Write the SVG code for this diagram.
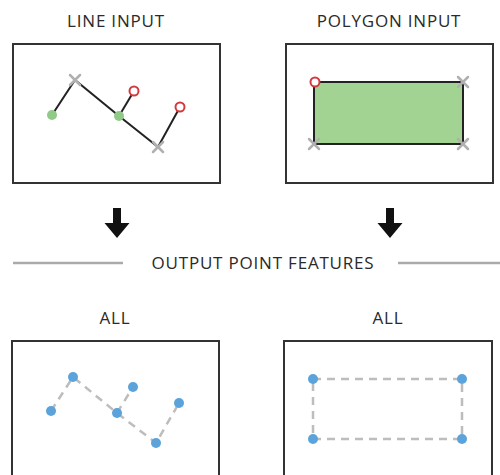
<svg xmlns="http://www.w3.org/2000/svg" width="500" height="475" viewBox="0 0 500 475">
<style>
.t{font-family:"Open Sans","Liberation Sans",sans-serif;font-size:17px;fill:#2a2a2a;text-anchor:middle;letter-spacing:0.8px}
.box{fill:#fff;stroke:#333;stroke-width:2}
.ln{stroke:#222;stroke-width:2;fill:none}
.x{stroke:#b0b0b0;stroke-width:2.5;stroke-linecap:round}
.st{fill:#8fca86}
.en{fill:#fff;stroke:#d23a3f;stroke-width:2}
.dash{stroke:#bdbdbd;stroke-width:2.5;stroke-dasharray:8 6;fill:none}
.pt{fill:#5ba3da}
.sep{stroke:#aaa;stroke-width:2.5}
.arr{fill:#111}
</style>
<defs>
<g id="xm"><line class="x" x1="-5" y1="-5" x2="5" y2="5"/><line class="x" x1="-5" y1="5" x2="5" y2="-5"/></g>
<path id="down" d="M-4,-30 H4 V-15 H12.5 L0,0 L-12.5,-15 H-4 Z"/>
</defs>

<g id="line-input">
<text class="t" x="116" y="27">LINE INPUT</text>
<rect class="box" x="13" y="44" width="207" height="139"/>
<polyline class="ln" points="52,115 75,80 119,116 158,147 180,107"/>
<line class="ln" x1="119" y1="116" x2="134" y2="91"/>
<use href="#xm" x="75" y="80"/>
<use href="#xm" x="158" y="147"/>
<circle class="st" cx="52" cy="115" r="5"/>
<circle class="st" cx="119" cy="116" r="5"/>
<circle class="en" cx="134" cy="91" r="4.5"/>
<circle class="en" cx="180" cy="107" r="4.5"/>
</g>

<g id="polygon-input">
<text class="t" x="389" y="27">POLYGON INPUT</text>
<rect class="box" x="286" y="44" width="207" height="139"/>
<rect x="314" y="82" width="149" height="62" rx="3" fill="#a3d393" stroke="#222" stroke-width="2"/>
<use href="#xm" x="463" y="82"/>
<use href="#xm" x="314" y="144"/>
<use href="#xm" x="463" y="144"/>
<circle class="en" cx="315" cy="82" r="4.5"/>
</g>

<g id="connectors">
<use href="#down" class="arr" x="117" y="238"/>
<use href="#down" class="arr" x="390" y="238"/>
<line class="sep" x1="13" y1="263" x2="123" y2="263"/>
<line class="sep" x1="398" y1="263" x2="500" y2="263"/>
</g>

<g id="output-label">
<text class="t" x="263" y="269">OUTPUT POINT FEATURES</text>
</g>

<g id="all-line">
<text class="t" x="115" y="324">ALL</text>
<rect class="box" x="12" y="341" width="207" height="150"/>
<polyline class="dash" points="51,411 73,377 117,413 156,443 179,403"/>
<line class="dash" x1="117" y1="413" x2="133" y2="387"/>
<circle class="pt" cx="51" cy="411" r="5"/>
<circle class="pt" cx="73" cy="377" r="5"/>
<circle class="pt" cx="117" cy="413" r="5"/>
<circle class="pt" cx="133" cy="387" r="5"/>
<circle class="pt" cx="156" cy="443" r="5"/>
<circle class="pt" cx="179" cy="403" r="5"/>
</g>

<g id="all-polygon">
<text class="t" x="388" y="324">ALL</text>
<rect class="box" x="284" y="341" width="208" height="150"/>
<rect class="dash" x="313" y="379" width="149" height="60"/>
<circle class="pt" cx="313" cy="379" r="5"/>
<circle class="pt" cx="462" cy="379" r="5"/>
<circle class="pt" cx="313" cy="439" r="5"/>
<circle class="pt" cx="462" cy="439" r="5"/>
</g>
</svg>
